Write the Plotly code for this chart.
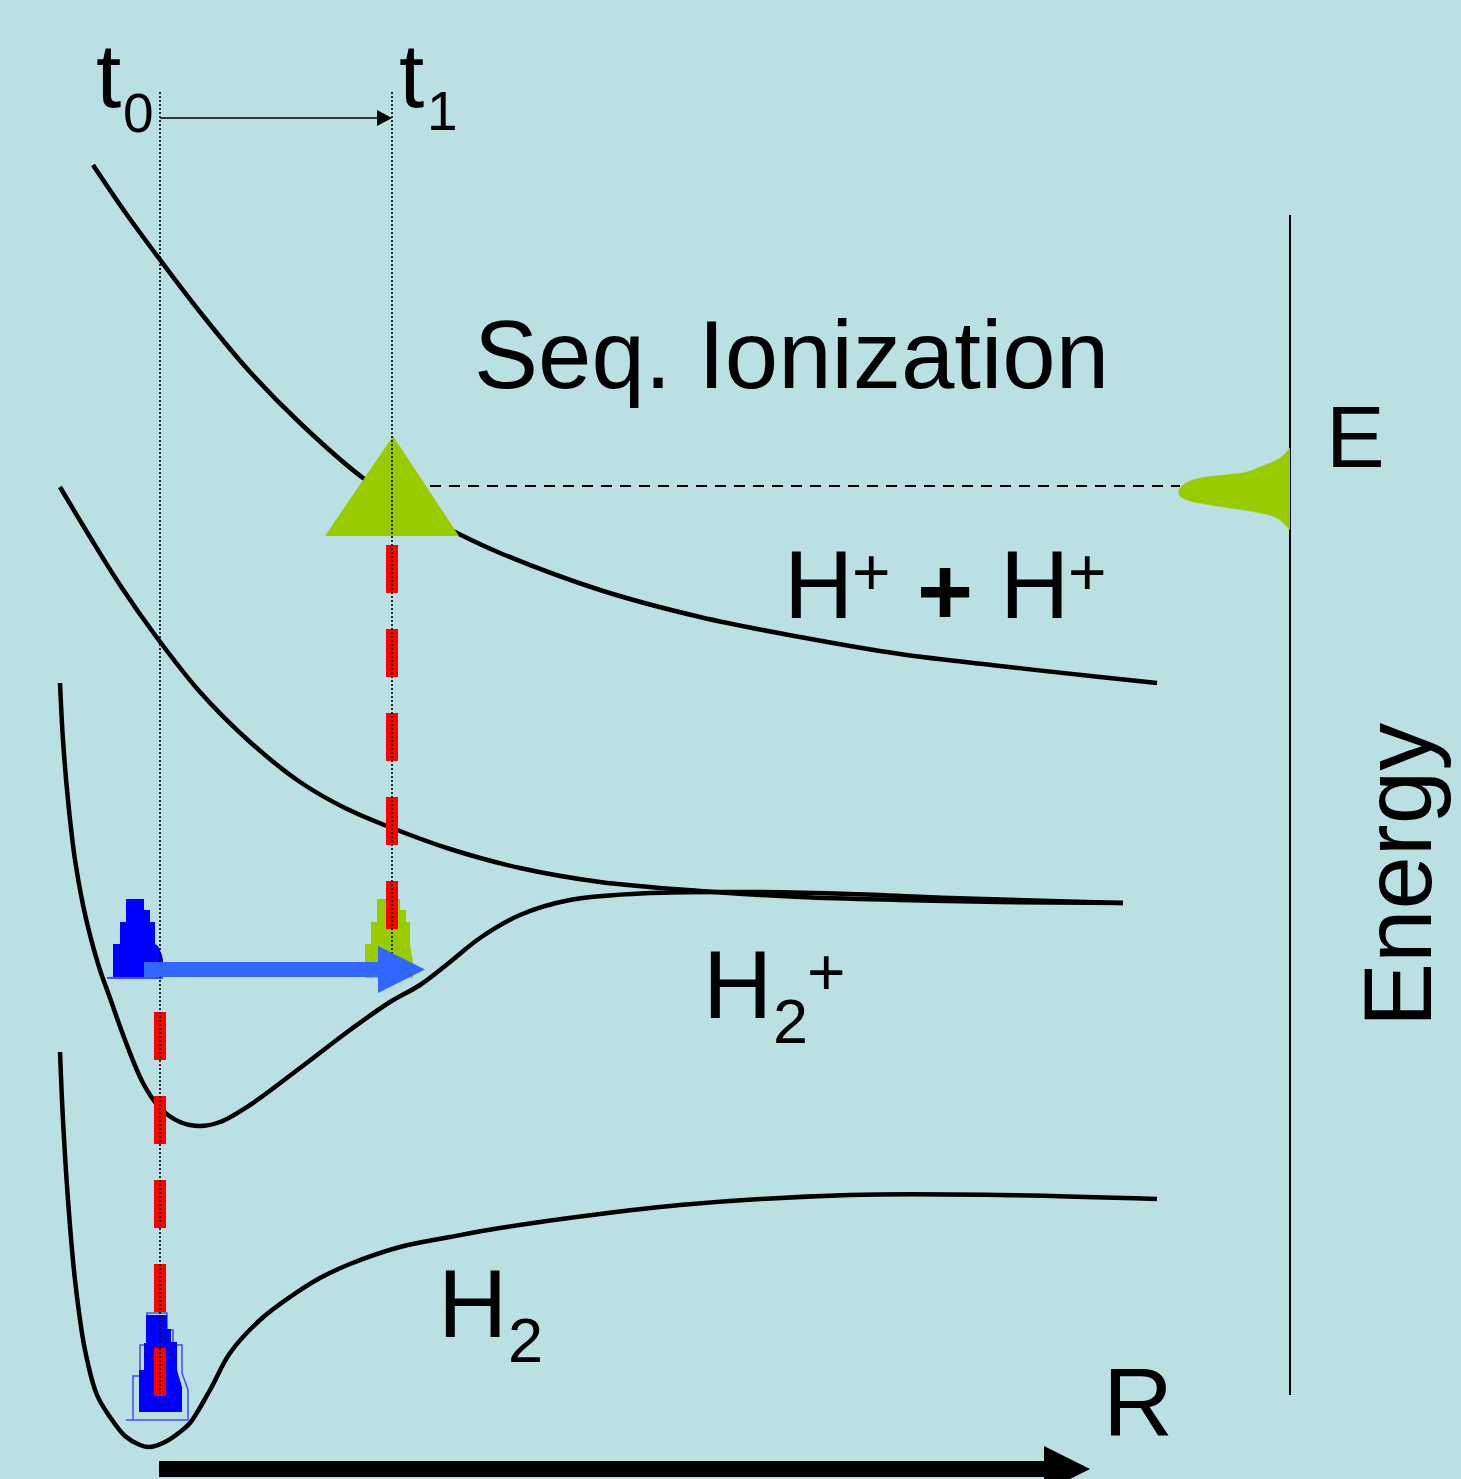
import plotly.graph_objects as go

# ---------------- data (pixel-like diagram coordinates: R -> x, energy -> y downward) ----
curve_hh_r = [93, 125, 155, 200, 250, 300, 363, 410, 459, 500, 600, 700, 800, 900, 1000, 1100, 1157]
curve_hh_e = [165, 212, 253, 312, 372, 423, 478, 508, 534, 553, 590, 617, 637, 654, 666, 677, 683]

curve_rep_r = [60, 90, 120, 155, 200, 250, 300, 345, 392, 450, 520, 600, 700, 800, 900, 1000, 1123]
curve_rep_e = [487, 537, 585, 635, 692, 742, 782, 808, 828, 849, 868, 882, 891, 897, 900, 902, 903]

curve_h2p_r = [60, 63, 68, 75, 83, 90, 100, 110, 125, 143, 160, 180, 200, 220, 250, 300, 350, 390, 420, 450, 480, 520, 570, 650, 750, 850, 950, 1050, 1123]
curve_h2p_e = [683, 740, 800, 860, 905, 935, 970, 998, 1040, 1083, 1108, 1122, 1126, 1122, 1105, 1068, 1030, 1002, 985, 962, 938, 915, 900, 893, 892, 894, 898, 901, 903]

curve_h2_r = [60, 63, 68, 75, 85, 97, 110, 125, 140, 150, 165, 180, 190, 210, 230, 260, 290, 320, 350, 400, 450, 500, 600, 680, 850, 1000, 1157]
curve_h2_e = [1052, 1120, 1200, 1280, 1350, 1395, 1417, 1436, 1445, 1447, 1442, 1432, 1423, 1390, 1353, 1320, 1297, 1278, 1264, 1247, 1237, 1228, 1214, 1205, 1195, 1195, 1199]

gauss_x = [1290, 1280, 1260, 1247, 1225, 1200, 1186, 1179, 1180, 1190, 1205, 1230, 1255, 1277, 1290]
gauss_y = [448, 458, 467, 472, 475, 478, 483, 490, 496, 501, 504, 508, 512, 518, 530]

tri_x = [325, 393, 459]
tri_y = [536, 436, 536]

pk0_x = [113, 113, 120, 120, 126, 126, 144, 144, 150, 150, 155, 155, 158, 162, 163, 163]
pk0_y = [978, 944, 944, 922, 922, 899, 899, 910, 910, 922, 922, 944, 946, 955, 960, 978]
pk0_base_x = [107, 163]
pk0_base_y = [978, 978]

pk1_x = [359, 365, 365, 371, 371, 377, 377, 400, 400, 406, 406, 410, 410, 413, 413]
pk1_y = [978, 978, 944, 944, 922, 922, 899, 899, 910, 910, 922, 922, 944, 962, 978]

pkg_x = [139, 139, 144, 144, 146, 146, 167, 167, 171, 171, 177, 177, 182, 182]
pkg_y = [1412, 1370, 1370, 1343, 1343, 1315, 1315, 1329, 1329, 1342, 1342, 1370, 1387, 1412]
pkg_out_x = [126, 188, 188, 182, 182, 173, 173, 167, 167, 147, 147, 140, 140, 133, 133, 126]
pkg_out_y = [1420, 1420, 1390, 1373, 1345, 1345, 1330, 1330, 1313, 1313, 1345, 1345, 1376, 1376, 1420, 1420]

t_positions = [160, 392]          # R at t0 and t1
dotted_top = [92, 92]
dotted_bottom = [1396, 955]
red_top = [1012, 545]
red_bottom = [1396, 929]

e_level = 486                     # energy level of the triangle / E-distribution
axis_x = 1290
axis_top, axis_bottom = 215, 1395

BG = "#BBE0E3"
GREEN = "#99CC00"
FONT = "Liberation Sans, Arial, sans-serif"

fig = go.Figure()

def line(x, y, color="black", width=4, dash=None, shape="linear"):
    fig.add_trace(go.Scatter(x=x, y=y, mode="lines", hoverinfo="skip", showlegend=False,
                             line=dict(color=color, width=width, dash=dash, shape=shape)))

def poly(x, y, color, lw=0, lc=None):
    fig.add_trace(go.Scatter(x=list(x) + [x[0]], y=list(y) + [y[0]], mode="lines", fill="toself",
                             fillcolor=color, hoverinfo="skip", showlegend=False,
                             line=dict(color=lc or color, width=lw)))

def arrow(x0, x1, yc, thick, head_len, head_half, color):
    xb = x1 - head_len
    xs = [x0, xb, xb, x1, xb, xb, x0]
    ys = [yc - thick / 2, yc - thick / 2, yc - head_half, yc, yc + head_half, yc + thick / 2, yc + thick / 2]
    poly(xs, ys, color)

# potential curves
for r, e in [(curve_hh_r, curve_hh_e), (curve_rep_r, curve_rep_e),
             (curve_h2p_r, curve_h2p_e), (curve_h2_r, curve_h2_e)]:
    line(r, e, width=4.5, shape="spline")

# energy axis
line([axis_x, axis_x], [axis_top, axis_bottom], width=2)
# dashed energy level
line([430, 1180], [e_level, e_level], width=2, dash="11px,8px")
# energy distribution
fig.add_trace(go.Scatter(x=gauss_x, y=gauss_y, mode="lines", fill="toself", fillcolor=GREEN,
                         hoverinfo="skip", showlegend=False,
                         line=dict(color=GREEN, width=0.5, shape="spline")))
# triangle
poly(tri_x, tri_y, GREEN)

# wave packets
poly(pkg_out_x, pkg_out_y, "rgba(0,0,0,0)", lw=1.5, lc="#3B4DFF")
poly(pkg_x, pkg_y, "#0000FF")
poly(pk0_x, pk0_y, "#0000FF")
line(pk0_base_x, pk0_base_y, color="#3B4DFF", width=2)
poly(pk1_x, pk1_y, GREEN)

# red dashed transitions
for xp, a, b in zip(t_positions, red_top, red_bottom):
    line([xp, xp], [a, b], color="#FF0000", width=12, dash="48px,36px")

# dotted time markers
for xp, a, b in zip(t_positions, dotted_top, dotted_bottom):
    line([xp, xp], [a, b], color="black", width=1.6, dash="2px,2px")

# blue motion arrow
arrow(144, 425, 969.5, 15, 47, 23.5, "#3366FF")
# top time arrow
line([t_positions[0], 380], [118, 118], width=1.5)
poly([377, 392, 377], [110, 118, 126], "black")
# R axis arrow
arrow(159, 1090, 1469, 16, 46, 23, "black")

# ---------------- texts ----------------
texts = [
    ("t", 108.5, 75.5, 91, False, 0),
    ("0", 138, 112.5, 55, False, 0),
    ("t", 411.5, 75.5, 91, False, 0),
    ("1", 442, 111, 55, False, 0),
    ("Seq. Ionization", 791, 354.5, 96, False, 0),
    ("E", 1355, 436.5, 88, False, 0),
    ("H", 818, 584.5, 96, False, 0),
    ("+", 871, 571.5, 66, False, 0),
    ("+", 944.5, 591.5, 96, True, 0),
    ("H", 1034, 584.5, 96, False, 0),
    ("+", 1087, 571.5, 66, False, 0),
    ("H", 737.5, 984.5, 96, False, 0),
    ("2", 790, 1020.5, 63, False, 0),
    ("+", 826.5, 972, 66, False, 0),
    ("H", 472.5, 1303.5, 96, False, 0),
    ("2", 525, 1340, 63, False, 0),
    ("R", 1138, 1402, 97, False, 0),
    ("Energy", 1397, 875, 96, False, -90),
]
for txt, x, y, size, bold, ang in texts:
    fig.add_annotation(x=x, y=y, xref="x", yref="y", text=f"<b>{txt}</b>" if bold else txt,
                       showarrow=False, xanchor="center", yanchor="middle", textangle=ang,
                       font=dict(family=FONT, size=size, color="black"))

fig.update_layout(
    width=1461, height=1479,
    margin=dict(l=0, r=0, t=0, b=0),
    paper_bgcolor=BG, plot_bgcolor=BG,
    xaxis=dict(range=[0, 1461], visible=False, fixedrange=True),
    yaxis=dict(range=[1479, 0], visible=False, fixedrange=True),
    showlegend=False,
)
fig.write_html(
    "out.html",
    config={"displayModeBar": False},
    post_script="document.body.style.margin='0';document.body.style.overflow='hidden';"
                "document.documentElement.style.overflow='hidden';",
)
